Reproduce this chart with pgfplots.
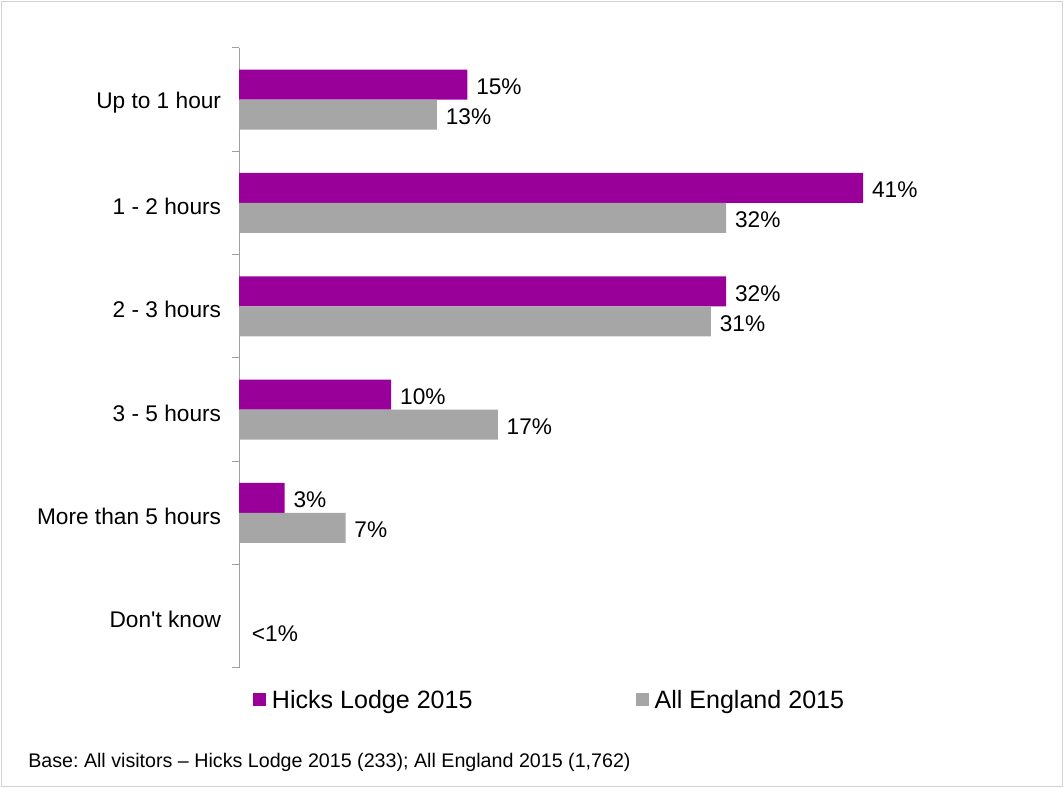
\documentclass[border=0pt]{standalone}
\usepackage{fontspec}
\setmainfont{Liberation Sans}[Ligatures=TeXOff]
\usepackage{pgfplots}
\pgfplotsset{compat=1.18}
\definecolor{hicks}{RGB}{153,0,153}
\definecolor{england}{RGB}{166,166,166}
\definecolor{axisgray}{RGB}{160,160,160}
\definecolor{framegray}{RGB}{210,210,210}
\frenchspacing
\begin{document}
\begin{tikzpicture}
\useasboundingbox (0,0) rectangle (798pt,591pt);
\fill[white] (0,0) rectangle (798pt,591pt);
\draw[framegray, line width=0.75pt] (1.1pt,1.1pt) rectangle (796.9pt,589.9pt);
\begin{axis}[
  at={(179.25pt,90pt)}, anchor=south west,
  scale only axis, width=513.75pt, height=465pt,
  xbar, bar width=22.5pt,
  xmin=0, xmax=45, ymin=-0.5, ymax=5.5,
  axis x line=none,
  axis y line*=left,
  y axis line style={axisgray, line width=0.75pt},
  ytick={0,1,2,3,4,5},
  yticklabels={Don't know, More than 5 hours, 3 - 5 hours, 2 - 3 hours, 1 - 2 hours, Up to 1 hour},
  major y tick style={draw=none},
  minor ytick={-0.5,0.5,1.5,2.5,3.5,4.5,5.5},
  minor y tick style={axisgray, line width=0.75pt},
  tick align=outside, minor tick length=5.25pt,
  yticklabel style={font=\fontsize{17}{20}\selectfont, inner sep=0pt, xshift=-9pt, yshift=-2.5pt},
  point meta=explicit symbolic,
  nodes near coords={\pgfplotspointmeta},
  every node near coord/.append style={font=\fontsize{17}{20}\selectfont, anchor=west, inner sep=0pt, xshift=6.5pt, yshift=-1.5pt, text=black},
  legend columns=2,
  legend style={at={(axis description cs:0,-0.0515)}, anchor=west, xshift=10.5pt, draw=none, fill=none,
    font=\fontsize{18.8}{22}\selectfont, inner sep=0pt,
    nodes={inner sep=2pt},
    /tikz/every even column/.append style={column sep=120.5pt}},
  legend image code/.code={\fill (0pt,-4.875pt) rectangle (9.75pt,4.875pt); \path (12pt,0pt);},
  clip=false,
]
\addplot[fill=hicks, draw=none, bar shift=11.25pt] coordinates {
  (15,5) [15\%]
  (41,4) [41\%]
  (32,3) [32\%]
  (10,2) [10\%]
  (3,1) [3\%]
};
\addplot[fill=england, draw=none, bar shift=-11.25pt] coordinates {
  (13,5) [13\%]
  (32,4) [32\%]
  (31,3) [31\%]
  (17,2) [17\%]
  (7,1) [7\%]
};
\addplot[fill=england, draw=none, bar shift=-11.25pt, forget plot,
  every node near coord/.append style={xshift=3pt}] coordinates {
  (0,0) [<1\%]
};
\legend{Hicks Lodge 2015, All England 2015}
\end{axis}
\node[anchor=base west, inner sep=0pt, font=\fontsize{14.75}{17}\selectfont] at (21pt,15.5pt) {Base: All visitors – Hicks Lodge 2015 (233); All England 2015 (1,762)};
\end{tikzpicture}
\end{document}
